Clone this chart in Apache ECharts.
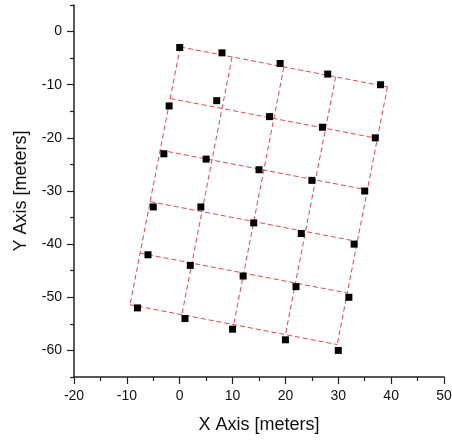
<!DOCTYPE html>
<html><head><meta charset="utf-8">
<script src="https://cdn.jsdelivr.net/npm/echarts@6/dist/echarts.min.js"></script>
<style>html,body{margin:0;padding:0;background:#fff}#c{width:452px;height:440px}</style>
</head><body><div id="c"></div>
<script>
// Measured points (meters)
const pointX = [0, 8, 19, 28, 38,
                -2, 7, 17, 27, 37,
                -3, 5, 15, 25, 35,
                -5, 4, 14, 23, 33,
                -6, 2, 12, 22, 32,
                -8, 1, 10, 20, 30];
const pointY = [-3, -4, -6, -8, -10,
                -14, -13, -16, -18, -20,
                -23, -24, -26, -28, -30,
                -33, -33, -36, -38, -40,
                -42, -44, -46, -48, -50,
                -52, -54, -56, -58, -60];
// Fitted grid lines: [x1, y1, x2, y2]
const rowLines = [
  [0.1, -2.9, 39.3, -10.4],
  [-1.8, -12.6, 37.4, -20.1],
  [-3.7, -22.3, 35.5, -29.8],
  [-5.6, -32.0, 33.6, -39.5],
  [-7.5, -41.7, 31.7, -49.2],
  [-9.4, -51.4, 29.8, -58.9]
];
const colLines = [
  [0.1, -2.9, -9.4, -51.4],
  [9.9, -4.8, 0.4, -53.3],
  [19.7, -6.7, 10.2, -55.2],
  [29.5, -8.5, 20.0, -57.0],
  [39.3, -10.4, 29.8, -58.9]
];
const xRange = [-20, 50];
const yRange = [-65, 5];
const xMajorTicks = [-20, -10, 0, 10, 20, 30, 40, 50];
const xMinorTicks = [-15, -5, 5, 15, 25, 35, 45];
const yMajorTicks = [-60, -50, -40, -30, -20, -10, 0];
const yMinorTicks = [-65, -55, -45, -35, -25, -15, -5, 5];

const FONT = "'Liberation Sans', Arial, sans-serif";
const AXIS_COLOR = '#222';

const chart = echarts.init(document.getElementById('c'), null, {renderer: 'canvas'});

const lineSeries = rowLines.concat(colLines).map(l => ({
  type: 'line',
  data: [[l[0], l[1]], [l[2], l[3]]],
  showSymbol: false,
  symbol: 'none',
  silent: true,
  z: 1,
  lineStyle: {color: '#e34848', width: 1, type: [5, 3]}
}));

const pts = pointX.map((x, i) => [x, pointY[i]]);

const tickStyle = {color: AXIS_COLOR, width: 1.2};

chart.setOption({
  animation: false,
  backgroundColor: '#fff',
  grid: {left: 74, right: 8, top: 5, bottom: 63, containLabel: false, outerBoundsMode: 'none'},
  xAxis: [{
    type: 'value', min: xRange[0], max: xRange[1],
    name: 'X Axis [meters]', nameLocation: 'middle', nameGap: 39,
    nameTextStyle: {fontFamily: FONT, fontSize: 18, color: '#111'},
    axisLine: {show: true, onZero: false, lineStyle: {color: AXIS_COLOR, width: 1.5}},
    axisTick: {show: true, inside: false, length: 7, customValues: xMajorTicks, lineStyle: tickStyle},
    axisLabel: {margin: 12, fontFamily: FONT, fontSize: 14, color: '#111', customValues: xMajorTicks},
    splitLine: {show: false}
  }, {
    type: 'value', min: xRange[0], max: xRange[1], position: 'bottom', offset: 0,
    axisLine: {show: false, onZero: false},
    axisTick: {show: true, inside: false, length: 4, customValues: xMinorTicks, lineStyle: tickStyle},
    axisLabel: {show: false},
    splitLine: {show: false}
  }],
  yAxis: [{
    type: 'value', min: yRange[0], max: yRange[1],
    name: 'Y Axis [meters]', nameLocation: 'middle', nameGap: 44,
    nameTextStyle: {fontFamily: FONT, fontSize: 18, color: '#111'},
    axisLine: {show: true, onZero: false, lineStyle: {color: AXIS_COLOR, width: 1.5}},
    axisTick: {show: true, inside: false, length: 7, customValues: yMajorTicks, lineStyle: tickStyle},
    axisLabel: {margin: 12, fontFamily: FONT, fontSize: 14, color: '#111', customValues: yMajorTicks},
    splitLine: {show: false}
  }, {
    type: 'value', min: yRange[0], max: yRange[1], position: 'left', offset: 0,
    axisLine: {show: false, onZero: false},
    axisTick: {show: true, inside: false, length: 4, customValues: yMinorTicks, lineStyle: tickStyle},
    axisLabel: {show: false},
    splitLine: {show: false}
  }],
  series: lineSeries.concat([{
    type: 'scatter',
    data: pts,
    symbol: 'rect',
    symbolSize: 7,
    z: 5,
    itemStyle: {color: '#000', opacity: 1, borderWidth: 0}
  }])
});
</script>
</body></html>
